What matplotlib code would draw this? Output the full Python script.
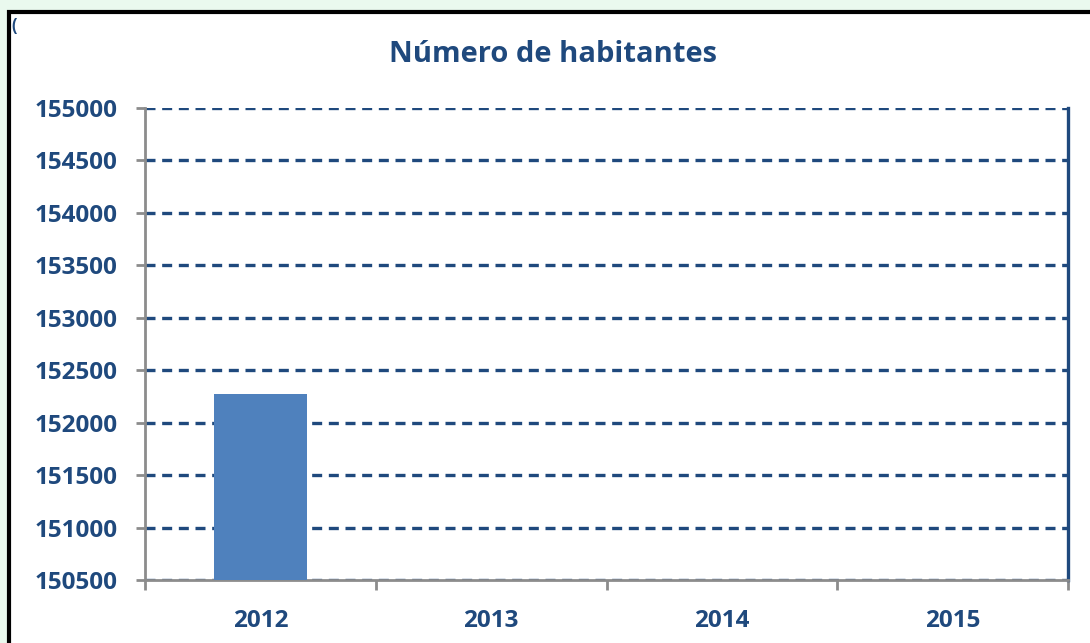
import matplotlib.pyplot as plt
from matplotlib.patches import Rectangle

# data
years = ["2012", "2013", "2014", "2015"]
habitantes = [152270, None, None, None]
y_ticks = list(range(150500, 155001, 500))

NAVY = "#1f497d"
BAR = "#4f81bd"
GREY = "#8c8c8c"

plt.rcParams['font.family'] = ['Open Sans', 'DejaVu Sans']

fig = plt.figure(figsize=(10.9, 6.43), dpi=100)
fig.patch.set_facecolor("#eaf9ee")

# white chart area with black frame (runs off the right and bottom)
W, H = 1090, 643
fig.patches.append(Rectangle((9 / W, -0.05), 1.2, 1 - 12 / H + 0.05,
                             transform=fig.transFigure, facecolor="white",
                             edgecolor="black", linewidth=3, zorder=-5))
fig.text(11 / W, 1 - 31 / H, "(", color=NAVY, fontsize=12, fontweight="bold")

ax = fig.add_axes([145 / W, 1 - 580 / H, (1068 - 145) / W, (580 - 108) / H])
ax.set_facecolor("white")

xs = [i for i, v in enumerate(habitantes) if v is not None]
vals = [v for v in habitantes if v is not None]
ax.bar(xs, [v - y_ticks[0] for v in vals], bottom=y_ticks[0], width=0.4,
       color=BAR, zorder=3)

ax.set_ylim(y_ticks[0], y_ticks[-1])
ax.set_xlim(-0.5, len(years) - 0.5)
ax.set_yticks(y_ticks)
ax.set_yticklabels([str(t) for t in y_ticks])
ax.yaxis.grid(True, linestyle=(0, (3, 2)), color=NAVY, linewidth=2.4, zorder=1)
ax.set_axisbelow(True)

# category boundary ticks, labels at the centers
ax.set_xticks([i - 0.5 for i in range(len(years) + 1)])
ax.set_xticklabels([])
ax.set_xticks(range(len(years)), minor=True)
ax.set_xticklabels(years, minor=True)
ax.tick_params(axis="x", which="minor", length=0, pad=21)
ax.tick_params(axis="x", which="major", length=7, width=2, color=GREY)
ax.tick_params(axis="y", length=6.5, width=2, color=GREY, pad=13)

for lab in ax.get_xticklabels(minor=True) + ax.get_yticklabels():
    lab.set_color(NAVY)
    lab.set_fontweight("bold")
    lab.set_fontsize(17.5)

ax.spines["top"].set_visible(False)
ax.spines["left"].set_color(GREY)
ax.spines["left"].set_linewidth(2)
ax.spines["bottom"].set_color(GREY)
ax.spines["bottom"].set_linewidth(2)
ax.spines["right"].set_color(NAVY)
ax.spines["right"].set_linewidth(2.4)

fig.text(553 / W, 1 - 55 / H, "Número de habitantes", ha="center", va="center",
         color=NAVY, fontsize=21, fontweight="bold")

fig.savefig("out.png", dpi=100, facecolor=fig.get_facecolor())
